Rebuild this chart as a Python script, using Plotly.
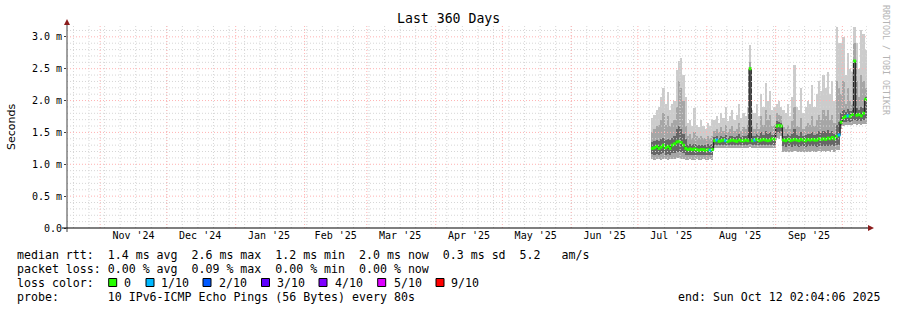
import plotly.graph_objects as go
import pandas as pd

# ---------------- data (values in ms) ----------------
start_day = "2025-07-07"
n_days = 97

# outermost smoke (max ping) -- lightest band
top = [1.72, 1.78, 1.85, 1.9, 2.05, 2.2, 1.95, 2.13, 1.85, 1.95, 2.0, 2.48, 2.62, 2.67, 2.4, 2.05, 1.65, 1.7, 1.6, 1.88,
       1.62, 1.58, 1.7, 1.6, 1.55, 1.65, 1.6, 1.7,
       1.7, 1.75, 1.65, 1.8, 1.72, 1.9, 1.68, 1.75, 1.85, 1.7, 1.78, 1.95, 1.72, 1.8, 1.75, 1.9, 2.87, 1.85, 1.8, 1.95,
       1.75, 2.1, 1.9, 2.28, 2.0, 2.15, 1.85, 1.9,
       1.95, 2.0, 1.9,
       1.85, 1.8, 1.95, 1.75, 2.05, 2.56, 1.9, 1.85, 2.2, 1.8, 1.9, 2.0, 1.95, 2.25, 1.9, 2.1, 2.3, 2.15, 2.4, 2.2,
       2.45, 2.1, 2.3, 2.0, 3.15, 2.9,
       2.9, 3.0, 2.4, 2.75, 2.5, 2.45, 3.15, 2.9, 2.5, 3.1, 3.05, 2.8]
# medium smoke band top
mid = [1.5, 1.55, 1.6, 1.62, 1.7, 1.8, 1.62, 1.75, 1.6, 1.65, 1.7, 1.9, 2.3, 2.2, 2.0, 1.6, 1.45, 1.48, 1.42, 1.5,
       1.45, 1.42, 1.45, 1.42, 1.4, 1.45, 1.42, 1.45,
       1.52, 1.55, 1.5, 1.58, 1.52, 1.62, 1.5, 1.55, 1.6, 1.52, 1.56, 1.65, 1.52, 1.58, 1.55, 1.62, 2.6, 1.6, 1.56, 1.65,
       1.55, 1.75, 1.62, 1.85, 1.7, 1.78, 1.6, 1.62,
       1.8, 1.78, 1.75,
       1.58, 1.55, 1.62, 1.55, 1.68, 1.9, 1.6, 1.58, 1.72, 1.55, 1.6, 1.65, 1.62, 1.75, 1.6, 1.7, 1.78, 1.7, 1.85, 1.75,
       1.85, 1.7, 1.78, 1.65, 2.3, 2.2,
       2.1, 2.3, 1.95, 2.2, 2.0, 1.95, 2.9, 2.3, 2.05, 2.4, 2.3, 2.2]
# dark inner smoke band top
inner = [1.35, 1.36, 1.38, 1.36, 1.4, 1.42, 1.38, 1.4, 1.38, 1.42, 1.45, 1.55, 1.6, 1.55, 1.48, 1.4, 1.3, 1.32, 1.3, 1.32,
         1.3, 1.3, 1.31, 1.3, 1.3, 1.32, 1.3, 1.32,
         1.43, 1.44, 1.42, 1.45, 1.43, 1.46, 1.42, 1.44, 1.45, 1.43, 1.44, 1.47, 1.43, 1.45, 1.44, 1.46, 2.51, 1.45, 1.44,
         1.47, 1.44, 1.5, 1.46, 1.52, 1.48, 1.5, 1.46, 1.47,
         1.68, 1.66, 1.65,
         1.45, 1.44, 1.47, 1.44, 1.48, 1.55, 1.46, 1.45, 1.5, 1.44, 1.46, 1.48, 1.47, 1.5, 1.46, 1.48, 1.52, 1.49, 1.53,
         1.5, 1.54, 1.49, 1.52, 1.47, 1.62, 1.66,
         1.8, 1.85, 1.82, 1.86, 1.83, 1.85, 2.62, 1.88, 1.85, 1.9, 1.88, 2.05]
# median rtt
med = [1.25, 1.26, 1.28, 1.25, 1.27, 1.3, 1.26, 1.28, 1.25, 1.3, 1.32, 1.35, 1.36, 1.34, 1.3, 1.25, 1.23, 1.24, 1.23, 1.24,
       1.23, 1.22, 1.23, 1.23, 1.22, 1.23, 1.22, 1.23,
       1.37, 1.38, 1.36, 1.37, 1.38, 1.37, 1.36, 1.37, 1.38, 1.37, 1.36, 1.38, 1.37, 1.37, 1.38, 1.37, 2.5, 1.37, 1.38,
       1.39, 1.37, 1.38, 1.39, 1.38, 1.37, 1.38, 1.4, 1.39,
       1.6, 1.61, 1.6,
       1.38, 1.37, 1.39, 1.37, 1.38, 1.39, 1.38, 1.37, 1.39, 1.38, 1.37, 1.39, 1.38, 1.39, 1.38, 1.38, 1.4, 1.39, 1.4,
       1.39, 1.41, 1.4, 1.42, 1.4, 1.44, 1.46,
       1.66, 1.73, 1.75, 1.76, 1.75, 1.78, 2.62, 1.77, 1.78, 1.76, 1.8, 2.02]
# lower edge of dark inner band
low_in = [1.16, 1.15, 1.16, 1.15, 1.16, 1.17, 1.15, 1.16, 1.15, 1.17, 1.18, 1.2, 1.2, 1.19, 1.17, 1.15, 1.14, 1.15, 1.14,
          1.15, 1.14, 1.14, 1.15, 1.14, 1.14, 1.15, 1.14, 1.15,
          1.3, 1.31, 1.3, 1.3, 1.31, 1.3, 1.3, 1.31, 1.3, 1.3, 1.31, 1.3, 1.3, 1.31, 1.3, 1.3, 1.32, 1.3, 1.31, 1.3,
          1.3, 1.31, 1.3, 1.31, 1.3, 1.3, 1.31, 1.3,
          1.5, 1.49, 1.52,
          1.28, 1.27, 1.28, 1.28, 1.27, 1.29, 1.28, 1.27, 1.28, 1.28, 1.27, 1.28, 1.28, 1.29, 1.28, 1.27, 1.29, 1.28,
          1.29, 1.28, 1.29, 1.28, 1.3, 1.28, 1.3, 1.31,
          1.6, 1.66, 1.67, 1.68, 1.67, 1.68, 1.7, 1.68, 1.69, 1.68, 1.7, 1.72]
# lowest smoke (min ping)
low = [1.08, 1.07, 1.08, 1.08, 1.07, 1.08, 1.08, 1.07, 1.08, 1.08, 1.09, 1.1, 1.1, 1.09, 1.08, 1.07, 1.07, 1.08, 1.07,
       1.07, 1.08, 1.07, 1.07, 1.08, 1.07, 1.07, 1.08, 1.07,
       1.25, 1.26, 1.25, 1.25, 1.26, 1.25, 1.25, 1.26, 1.25, 1.25, 1.26, 1.25, 1.25, 1.26, 1.25, 1.25, 1.27, 1.25, 1.26,
       1.25, 1.25, 1.26, 1.25, 1.26, 1.25, 1.25, 1.26, 1.25,
       1.42, 1.4, 1.44,
       1.2, 1.19, 1.2, 1.2, 1.19, 1.21, 1.2, 1.19, 1.2, 1.2, 1.19, 1.2, 1.2, 1.21, 1.2, 1.19, 1.21, 1.2, 1.21, 1.2,
       1.21, 1.2, 1.22, 1.2, 1.22, 1.23,
       1.55, 1.6, 1.62, 1.62, 1.61, 1.62, 1.63, 1.62, 1.63, 1.62, 1.63, 1.64]
# packet loss in tenths per sample
loss = [0, 0, 0, 0, 0, 0, 0, 0, 0, 0,
        0, 0, 0, 0, 0, 0, 0, 0, 0, 0,
        0, 0, 0, 0, 0, 0, 1, 0, 0, 1,
        0, 0, 0, 1, 0, 0, 0, 0, 0, 0,
        0, 0, 0, 0, 0, 0, 1, 0, 0, 0,
        0, 0, 0, 0, 0, 0, 0, 0, 0, 0,
        0, 0, 0, 0, 0, 0, 0, 0, 0, 0,
        0, 0, 0, 0, 0, 0, 0, 0, 0, 0,
        0, 0, 0, 0, 1, 0, 0, 0, 1, 0,
        0, 0, 0, 0, 0, 0, 0]

loss_labels = ["0", "1/10", "2/10", "3/10", "4/10", "5/10", "9/10"]
loss_colors = ["#26ff00", "#00b8ff", "#0059ff", "#5e00ff", "#7e00ff", "#dd00ff", "#ff0000"]

month_label_dates = ["2024-11-16", "2024-12-16", "2025-01-16", "2025-02-15", "2025-03-16", "2025-04-16",
                     "2025-05-16", "2025-06-16", "2025-07-16", "2025-08-16", "2025-09-16"]
month_labels = ["Nov '24", "Dec '24", "Jan '25", "Feb '25", "Mar '25", "Apr '25",
                "May '25", "Jun '25", "Jul '25", "Aug '25", "Sep '25"]
y_tickvals = [0, 0.5, 1.0, 1.5, 2.0, 2.5, 3.0]
y_ticktext = ["0.0", "0.5 m", "1.0 m", "1.5 m", "2.0 m", "2.5 m", "3.0 m"]

legend_rtt = "median rtt:  1.4 ms avg  2.6 ms max  1.2 ms min  2.0 ms now  0.3 ms sd  5.2   am/s"
legend_loss = "packet loss: 0.00 % avg  0.09 % max  0.00 % min  0.00 % now"
legend_color = "loss color:"
legend_probe = "probe:       10 IPv6-ICMP Echo Pings (56 Bytes) every 80s"
legend_end = "end: Sun Oct 12 02:04:06 2025"
title_text = "Last 360 Days"

x_start = "2024-10-17 02:04:06"
x_end = "2025-10-12 02:04:06"
y_max = 3.17

# ---------------- geometry / styling ----------------
W, H = 897, 310
L, R, T, B = 67, 867, 26, 228
MONO = "DejaVu Sans Mono"
GRID_MINOR = "#d6d6d6"
GRID_MAJOR = "#ffb2b2"


def pxx(x):
    return (x - L) / (R - L)


def pxy(y):
    return (B - y) / (B - T)


days = pd.date_range(start_day, periods=n_days, freq="D")
centers = days + pd.Timedelta(hours=12)
day_ms = 86400000

fig = go.Figure()
bands = [(low, top, "#cccccc"), (low, mid, "#a6a6a6"), (low_in, inner, "#666666")]
for lo, hi, col in bands:
    fig.add_trace(go.Bar(x=centers, y=[h - l for h, l in zip(hi, lo)], base=lo, width=day_ms,
                         marker=dict(color=col, line=dict(width=0)), hoverinfo="skip"))

fig.add_trace(go.Scatter(x=days, y=med, mode="lines", line=dict(color="#262626", width=1.3, shape="hv"),
                         hoverinfo="skip"))
fig.add_trace(go.Scatter(x=centers, y=med, mode="markers",
                         marker=dict(symbol="square", size=3, color=[loss_colors[v] for v in loss],
                                     line=dict(width=0)), hoverinfo="skip"))

shapes = []
# vertical grid: weeks (gray) and months (red)
for d in pd.date_range("2024-10-20", x_end, freq="7D"):
    shapes.append(dict(type="line", xref="x", yref="paper", x0=d, x1=d, y0=0, y1=1, layer="above",
                       line=dict(color=GRID_MINOR, width=1, dash="1px,2px")))
for d in pd.date_range("2024-11-01", x_end, freq="MS"):
    shapes.append(dict(type="line", xref="x", yref="paper", x0=d, x1=d, y0=0, y1=1, layer="above",
                       line=dict(color=GRID_MAJOR, width=1, dash="1px,2px")))
# horizontal grid
for k in range(1, 32):
    v = k / 10
    major = (k % 5 == 0)
    shapes.append(dict(type="line", xref="paper", yref="y", x0=0, x1=1, y0=v, y1=v, layer="above",
                       line=dict(color=GRID_MAJOR if major else GRID_MINOR, width=1, dash="1px,2px")))
# axis lines
shapes.append(dict(type="line", xref="paper", yref="paper", x0=pxx(L), x1=pxx(L), y0=pxy(B + 4), y1=pxy(22),
                   line=dict(color="#404040", width=1)))
shapes.append(dict(type="line", xref="paper", yref="paper", x0=pxx(62), x1=pxx(869), y0=pxy(B), y1=pxy(B),
                   line=dict(color="#000000", width=1.2)))
# arrows
shapes.append(dict(type="path", xref="paper", yref="paper",
                   path=f"M {pxx(L)} {pxy(19)} L {pxx(L - 3)} {pxy(25)} L {pxx(L + 3)} {pxy(25)} Z",
                   fillcolor="#8b1c1c", line=dict(width=0)))
shapes.append(dict(type="path", xref="paper", yref="paper",
                   path=f"M {pxx(874)} {pxy(B)} L {pxx(868)} {pxy(B - 3)} L {pxx(868)} {pxy(B + 3)} Z",
                   fillcolor="#8b1c1c", line=dict(width=0)))
# loss colour boxes
box_cx = [112.7, 150.0, 207.0, 265.5, 323.0, 381.7, 440.0]
box_tx = [123.3, 160.0, 218.3, 276.0, 334.3, 392.7, 450.0]
row_y = [255.0, 268.6, 282.5, 296.5]
for cx, col in zip(box_cx, loss_colors):
    shapes.append(dict(type="rect", xref="paper", yref="paper", x0=pxx(cx - 4), x1=pxx(cx + 4),
                       y0=pxy(row_y[2] - 4), y1=pxy(row_y[2] + 4), fillcolor=col,
                       line=dict(color="#000000", width=1)))

ann = []


def txt(s, x, y, size=11.6, anchor="left", color="#000000", angle=0, family=MONO):
    ann.append(dict(text=s.replace(" ", "\u00a0"), xref="paper", yref="paper", x=pxx(x), y=pxy(y),
                    xanchor=anchor, yanchor="middle", showarrow=False, borderpad=0, textangle=angle,
                    font=dict(family=family, size=size, color=color)))


txt(legend_rtt, 16, row_y[0])
txt(legend_loss, 16, row_y[1])
txt(legend_color, 16, row_y[2])
for tx, lab in zip(box_tx, loss_labels):
    txt(lab, tx, row_y[2])
txt(legend_probe, 16, row_y[3])
txt(legend_end, 881, row_y[3], anchor="right")
txt(title_text, 448.5, 19, size=13.2, anchor="center")
txt("Seconds", 11, 127, size=11, anchor="center", angle=-90, family="DejaVu Sans")
txt("RRDTOOL / TOBI OETIKER", 886, 60, size=8.3, anchor="center", angle=90, color="#b4b4b4")

fig.update_layout(
    width=W, height=H,
    margin=dict(l=L, r=W - R, t=T, b=H - B, pad=0),
    paper_bgcolor="white", plot_bgcolor="white",
    barmode="overlay", bargap=0, showlegend=False,
    shapes=shapes, annotations=ann,
    xaxis=dict(type="date", range=[x_start, x_end], showgrid=False, zeroline=False, showline=False,
               tickmode="array", tickvals=month_label_dates, ticktext=month_labels, ticks="",
               tickfont=dict(family=MONO, size=10, color="#000000")),
    yaxis=dict(range=[0, y_max], showgrid=False, zeroline=False, showline=False,
               tickmode="array", tickvals=y_tickvals, ticktext=y_ticktext,
               ticks="outside", ticklen=2, tickcolor="#404040",
               tickfont=dict(family=MONO, size=10, color="#000000")),
)

fig.write_html("out.html")
